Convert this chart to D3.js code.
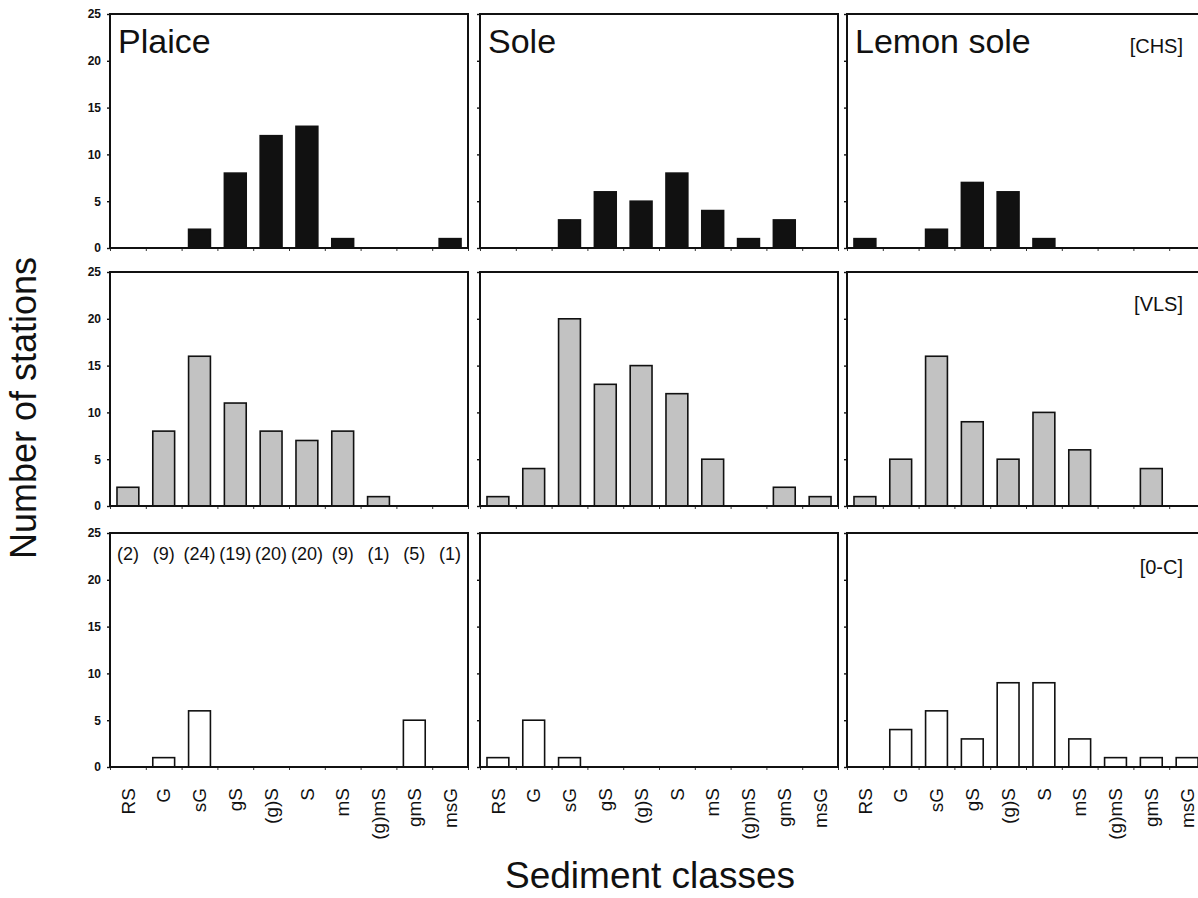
<!DOCTYPE html>
<html>
<head>
<meta charset="utf-8">
<script src="https://cdn.jsdelivr.net/npm/d3@7"></script>
<style>
  html, body { margin: 0; padding: 0; background: #fff; }
  svg { display: block; font-family: Arial, "Liberation Sans", sans-serif; }
</style>
</head>
<body>
<svg id="chart" width="1198" height="898"></svg>
<script>
// Sediment classes along the x axis
const categories = ["RS", "G", "sG", "gS", "(g)S", "S", "mS", "(g)mS", "gmS", "msG"];
const species = ["Plaice", "Sole", "Lemon sole"];
const groups = ["[CHS]", "[VLS]", "[0-C]"];
const yTicks = [0, 5, 10, 15, 20, 25];

// Number of stations per sediment class — CHS
const chsPlaice = [0, 0, 2, 8, 12, 13, 1, 0, 0, 1];
const chsSole = [0, 0, 3, 6, 5, 8, 4, 1, 3, 0];
const chsLemon = [1, 0, 2, 7, 6, 1, 0, 0, 0, 0];

// VLS
const vlsPlaice = [2, 8, 16, 11, 8, 7, 8, 1, 0, 0];
const vlsSole = [1, 4, 20, 13, 15, 12, 5, 0, 2, 1];
const vlsLemon = [1, 5, 16, 9, 5, 10, 6, 0, 4, 0];

// 0-C
const ocPlaice = [0, 1, 6, 0, 0, 0, 0, 0, 5, 0];
const ocSole = [1, 5, 1, 0, 0, 0, 0, 0, 0, 0];
const ocLemon = [0, 4, 6, 3, 9, 9, 3, 1, 1, 1];

const rowsData = [
  [chsPlaice, chsSole, chsLemon],
  [vlsPlaice, vlsSole, vlsLemon],
  [ocPlaice, ocSole, ocLemon]
];
const rowFills = ["#111111", "#c2c2c2", "#ffffff"];

// Station totals per class for plaice (sum over the three groups)
const plaiceTotals = categories.map((c, i) => chsPlaice[i] + vlsPlaice[i] + ocPlaice[i]);

const svg = d3.select("#chart");

const panelW = 358;
const panelH = 234;
const colLeft = [110, 480, 847];
const rowTop = [14, 272, 533];

const x = d3.scaleBand().domain(categories).range([0, panelW])
  .paddingInner(0.39).paddingOuter(0.195);
const xEdge = d3.scaleLinear().domain([0, categories.length]).range([0, panelW]);
const y = d3.scaleLinear().domain([0, 25]).range([panelH, 0]);

rowsData.forEach((row, r) => {
  row.forEach((vals, c) => {
    const g = svg.append("g")
      .attr("transform", `translate(${colLeft[c]},${rowTop[r]})`);

    // bars
    g.selectAll("rect.bar")
      .data(vals.map((v, i) => ({ cat: categories[i], v })).filter(d => d.v > 0))
      .join("rect")
      .attr("class", "bar")
      .attr("x", d => x(d.cat))
      .attr("width", x.bandwidth())
      .attr("y", d => y(d.v))
      .attr("height", d => y(0) - y(d.v))
      .attr("fill", rowFills[r])
      .attr("stroke", "#111")
      .attr("stroke-width", 1.6);

    // y axis
    const yAxis = d3.axisLeft(y).tickValues(yTicks).tickSize(3).tickPadding(6);
    if (c > 0) yAxis.tickFormat("");
    const ya = g.append("g").call(yAxis);
    ya.select(".domain").remove();
    ya.selectAll("line").attr("stroke", "#111").attr("stroke-width", 1.4);
    ya.selectAll("text")
      .attr("font-size", 12)
      .attr("font-weight", "bold")
      .attr("fill", "#111");

    // x axis ticks at class boundaries
    const xa = g.append("g").attr("transform", `translate(0,${panelH})`)
      .call(d3.axisBottom(xEdge).tickValues(d3.range(0, categories.length + 1)).tickSize(3).tickFormat(""));
    xa.select(".domain").remove();
    xa.selectAll("line").attr("stroke", "#333").attr("stroke-width", 1);

    // frame
    g.append("rect")
      .attr("x", 0).attr("y", 0)
      .attr("width", panelW).attr("height", panelH)
      .attr("fill", "none")
      .attr("stroke", "#111")
      .attr("stroke-width", 2);

    // species titles
    if (r === 0) {
      g.append("text")
        .attr("x", 8).attr("y", 39)
        .attr("font-size", 34)
        .attr("fill", "#111")
        .text(species[c]);
    }
    // group tags
    if (c === 2) {
      g.append("text")
        .attr("x", 336).attr("y", r === 2 ? 41 : 39)
        .attr("text-anchor", "end")
        .attr("font-size", 20)
        .attr("fill", "#111")
        .text(groups[r]);
    }
    // station totals
    if (r === 2 && c === 0) {
      g.selectAll("text.total")
        .data(plaiceTotals.map((t, i) => ({ cat: categories[i], t })))
        .join("text")
        .attr("class", "total")
        .attr("x", d => x(d.cat) + x.bandwidth() / 2)
        .attr("y", 27)
        .attr("text-anchor", "middle")
        .attr("font-size", 18)
        .attr("fill", "#111")
        .text(d => `(${d.t})`);
    }
    // class labels under the bottom row
    if (r === 2) {
      g.selectAll("text.cat")
        .data(categories)
        .join("text")
        .attr("class", "cat")
        .attr("transform", d => `translate(${x(d) + x.bandwidth() / 2},${panelH + 21}) rotate(-90)`)
        .attr("dy", "0.35em")
        .attr("text-anchor", "end")
        .attr("font-size", 19)
        .attr("fill", "#111")
        .text(d => d);
    }
  });
});

// axis titles
svg.append("text")
  .attr("transform", `translate(36,408) rotate(-90)`)
  .attr("text-anchor", "middle")
  .attr("font-size", 36)
  .attr("fill", "#111")
  .text("Number of stations");

svg.append("text")
  .attr("x", 650).attr("y", 888)
  .attr("text-anchor", "middle")
  .attr("font-size", 37)
  .attr("fill", "#111")
  .text("Sediment classes");
</script>
</body>
</html>
